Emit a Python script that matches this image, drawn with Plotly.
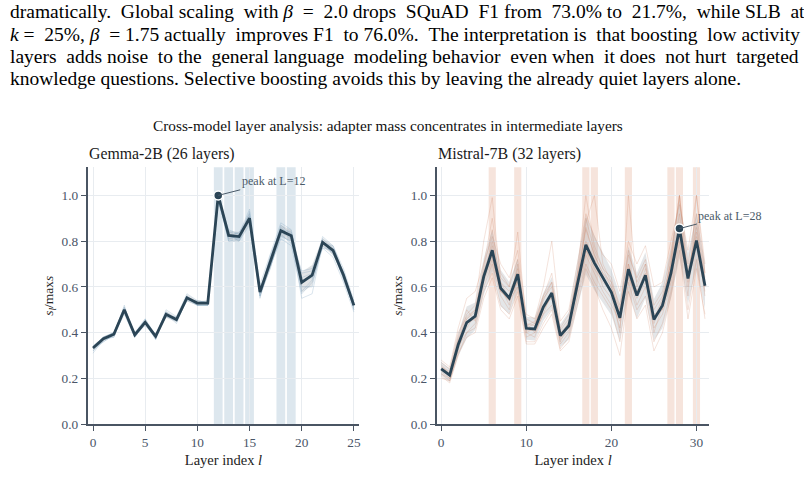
import plotly.graph_objects as go

# ---------------- data ----------------
gemma_layers = list(range(26))
gemma_mean = [0.333, 0.373, 0.393, 0.500, 0.390, 0.445, 0.384, 0.480, 0.457, 0.552,
              0.529, 0.529, 1.000, 0.825, 0.820, 0.900, 0.577, 0.710, 0.846, 0.824,
              0.620, 0.651, 0.795, 0.760, 0.652, 0.519]
gemma_std = [0.010, 0.010, 0.010, 0.015, 0.010, 0.010, 0.010, 0.015, 0.010, 0.015,
             0.010, 0.010, 0.010, 0.020, 0.020, 0.025, 0.025, 0.030, 0.025, 0.025,
             0.045, 0.045, 0.020, 0.020, 0.020, 0.015]
gemma_runs = [
    [0.32, 0.36, 0.39, 0.52, 0.38, 0.44, 0.37, 0.49, 0.45, 0.56, 0.52, 0.52, 0.99, 0.80, 0.81, 0.93, 0.55, 0.72, 0.87, 0.83, 0.58, 0.63, 0.81, 0.77, 0.66, 0.50],
    [0.34, 0.38, 0.40, 0.49, 0.40, 0.46, 0.39, 0.47, 0.46, 0.54, 0.54, 0.53, 0.98, 0.84, 0.83, 0.88, 0.60, 0.69, 0.82, 0.80, 0.66, 0.67, 0.78, 0.75, 0.64, 0.53],
    [0.33, 0.37, 0.38, 0.51, 0.39, 0.43, 0.38, 0.48, 0.44, 0.55, 0.53, 0.54, 0.97, 0.83, 0.80, 0.91, 0.56, 0.74, 0.85, 0.84, 0.60, 0.60, 0.80, 0.74, 0.67, 0.52],
    [0.34, 0.38, 0.40, 0.50, 0.39, 0.45, 0.39, 0.47, 0.47, 0.55, 0.52, 0.52, 1.00, 0.82, 0.84, 0.89, 0.59, 0.70, 0.83, 0.79, 0.64, 0.66, 0.77, 0.76, 0.63, 0.51],
    [0.32, 0.37, 0.39, 0.48, 0.38, 0.44, 0.38, 0.49, 0.46, 0.56, 0.53, 0.53, 0.99, 0.81, 0.82, 0.92, 0.57, 0.68, 0.86, 0.82, 0.55, 0.57, 0.79, 0.78, 0.66, 0.53],
    [0.33, 0.36, 0.39, 0.50, 0.40, 0.45, 0.37, 0.48, 0.45, 0.54, 0.52, 0.52, 0.98, 0.82, 0.81, 0.90, 0.58, 0.73, 0.84, 0.81, 0.67, 0.68, 0.80, 0.75, 0.65, 0.50],
    [0.31, 0.37, 0.40, 0.51, 0.39, 0.46, 0.38, 0.50, 0.47, 0.57, 0.54, 0.53, 0.99, 0.85, 0.83, 0.94, 0.61, 0.75, 0.88, 0.85, 0.63, 0.64, 0.82, 0.78, 0.68, 0.54],
    [0.33, 0.38, 0.38, 0.49, 0.38, 0.44, 0.39, 0.47, 0.45, 0.55, 0.52, 0.52, 0.98, 0.80, 0.80, 0.87, 0.56, 0.69, 0.81, 0.78, 0.57, 0.62, 0.77, 0.73, 0.62, 0.49],
]
gemma_highlight = [12, 13, 14, 15, 18, 19]

mistral_layers = list(range(32))
mistral_mean = [0.242, 0.214, 0.347, 0.444, 0.472, 0.645, 0.760, 0.594, 0.551, 0.655,
                0.419, 0.416, 0.512, 0.573, 0.387, 0.430, 0.610, 0.784, 0.705, 0.640,
                0.576, 0.465, 0.677, 0.562, 0.651, 0.457, 0.519, 0.660, 0.855, 0.637,
                0.803, 0.605]
mistral_std = [0.03, 0.03, 0.05, 0.07, 0.06, 0.08, 0.09, 0.08, 0.07, 0.07,
               0.05, 0.05, 0.06, 0.07, 0.05, 0.06, 0.10, 0.13, 0.12, 0.11,
               0.10, 0.10, 0.10, 0.10, 0.10, 0.09, 0.10, 0.11, 0.13, 0.11,
               0.12, 0.10]
mistral_runs = [
    [0.22, 0.20, 0.33, 0.46, 0.50, 0.68, 0.85, 0.60, 0.52, 0.70, 0.40, 0.42, 0.55, 0.60, 0.36, 0.44, 0.62, 0.80, 0.72, 0.60, 0.55, 0.42, 0.70, 0.58, 0.66, 0.40, 0.52, 0.72, 1.00, 0.62, 0.84, 0.60],
    [0.26, 0.22, 0.38, 0.50, 0.45, 0.62, 0.72, 0.58, 0.56, 0.62, 0.44, 0.40, 0.48, 0.58, 0.40, 0.42, 0.66, 1.00, 0.78, 0.68, 0.60, 0.50, 0.64, 0.55, 0.62, 0.48, 0.50, 0.64, 0.82, 0.66, 0.78, 0.58],
    [0.24, 0.21, 0.36, 0.42, 0.48, 0.66, 0.78, 0.62, 0.55, 0.68, 0.42, 0.44, 0.52, 0.55, 0.38, 0.45, 0.58, 0.76, 0.68, 0.62, 0.58, 0.40, 1.00, 0.60, 0.70, 0.44, 0.54, 0.68, 0.86, 0.60, 0.80, 0.62],
    [0.25, 0.23, 0.34, 0.40, 0.44, 0.60, 0.70, 0.56, 0.50, 0.64, 0.40, 0.38, 0.50, 0.56, 0.35, 0.40, 0.56, 0.74, 0.66, 0.58, 0.52, 0.45, 0.66, 0.52, 0.60, 0.42, 0.48, 0.62, 0.84, 0.56, 1.00, 0.66],
    [0.23, 0.20, 0.36, 0.48, 0.52, 0.80, 0.99, 0.62, 0.58, 0.66, 0.43, 0.45, 0.56, 0.62, 0.40, 0.44, 0.64, 0.85, 0.74, 0.66, 0.60, 0.48, 0.70, 0.56, 0.68, 0.46, 0.55, 0.70, 0.92, 0.64, 0.86, 0.63],
    [0.22, 0.19, 0.32, 0.44, 0.46, 0.64, 0.74, 0.58, 0.54, 0.60, 0.38, 0.40, 0.48, 0.52, 0.37, 0.41, 0.60, 0.88, 1.00, 0.70, 0.62, 0.46, 0.68, 0.58, 0.64, 0.46, 0.50, 0.66, 0.88, 0.68, 0.82, 0.56],
    [0.27, 0.24, 0.40, 0.47, 0.50, 0.66, 0.80, 0.64, 0.60, 0.72, 0.46, 0.44, 0.56, 0.66, 0.42, 0.48, 0.64, 0.86, 0.74, 0.66, 0.62, 0.52, 0.74, 0.64, 0.72, 0.52, 0.58, 0.74, 1.00, 0.70, 0.92, 0.66],
    [0.21, 0.18, 0.30, 0.40, 0.42, 0.58, 0.66, 0.52, 0.48, 0.58, 0.36, 0.36, 0.44, 0.50, 0.33, 0.38, 0.55, 0.70, 0.62, 0.56, 0.50, 0.36, 0.62, 0.50, 0.56, 0.36, 0.44, 0.58, 0.80, 0.50, 0.72, 0.46],
    [0.28, 0.25, 0.42, 0.55, 0.58, 0.70, 0.82, 0.70, 0.64, 0.76, 0.48, 0.46, 0.60, 0.80, 0.45, 0.50, 0.70, 0.92, 0.82, 0.74, 0.70, 0.58, 0.80, 0.70, 0.78, 0.60, 0.62, 0.80, 0.96, 0.76, 1.00, 0.70],
    [0.20, 0.19, 0.31, 0.38, 0.40, 0.55, 0.64, 0.50, 0.46, 0.56, 0.35, 0.35, 0.42, 0.48, 0.32, 0.36, 0.52, 0.68, 0.60, 0.50, 0.42, 0.30, 0.58, 0.46, 0.52, 0.32, 0.40, 0.56, 0.76, 0.46, 0.68, 0.48],
    [0.25, 0.22, 0.37, 0.46, 0.49, 0.70, 0.90, 0.66, 0.60, 0.84, 0.44, 0.43, 0.54, 0.62, 0.41, 0.46, 0.66, 0.90, 0.76, 0.68, 0.64, 0.50, 0.76, 0.62, 0.70, 0.50, 0.56, 0.70, 1.00, 0.64, 0.88, 0.64],
    [0.24, 0.21, 0.35, 0.44, 0.47, 0.63, 0.74, 0.58, 0.54, 0.64, 0.41, 0.41, 0.50, 0.56, 0.38, 0.42, 0.60, 0.76, 0.70, 0.64, 0.58, 0.46, 0.66, 0.56, 0.64, 0.46, 0.52, 0.66, 0.84, 0.64, 0.80, 0.60],
]
mistral_highlight = [6, 9, 17, 18, 22, 27, 28, 30]

y_ticks = [0.0, 0.2, 0.4, 0.6, 0.8, 1.0]
gemma_xticks = [0, 5, 10, 15, 20, 25]
mistral_xticks = [0, 10, 20, 30]

paragraph = [
    "dramatically. Global scaling with <i>β</i> = 2.0 drops SQuAD F1 from 73.0% to 21.7%, while SLB at",
    "<i>k</i> = 25%, <i>β</i> = 1.75 actually improves F1 to 76.0%. The interpretation is that boosting low activity",
    "layers adds noise to the general language modeling behavior even when it does not hurt targeted",
    "knowledge questions. Selective boosting avoids this by leaving the already quiet layers alone.",
]
# extra (non-breaking) spaces per line to imitate the justified paragraph
paragraph_extra = [10, 7, 8, 0]
main_title = "Cross-model layer analysis: adapter mass concentrates in intermediate layers"

# ---------------- style ----------------
W, H = 804, 500
FONT = "Liberation Serif"
DARK = "#2b4556"
AXIS = "#4a5563"
TICK = "#4a5568"
GRID = "#e8ecf0"


def px_x(p):
    return p / W


def px_y(p):
    return 1 - p / H


def justify(line, extra):
    words = line.split(" ")
    gaps = len(words) - 1
    if extra <= 0 or gaps <= 0:
        return line
    chosen = set(round((k + 0.5) * gaps / extra - 0.5) for k in range(extra))
    out = words[0]
    for g in range(gaps):
        out += " " + ("\u00a0" if g in chosen else "") + words[g + 1]
    return out


fig = go.Figure()

panels = [
    dict(layers=gemma_layers, mean=gemma_mean, std=gemma_std, runs=gemma_runs,
         hl=gemma_highlight, xa="x", ya="y", run_col="rgba(120,160,190,0.30)",
         band_col="rgba(150,158,166,0.28)", hl_col="#dde7ee",
         title="Gemma-2B (26 layers)", ann=(55, -14)),
    dict(layers=mistral_layers, mean=mistral_mean, std=mistral_std, runs=mistral_runs,
         hl=mistral_highlight, xa="x2", ya="y2", run_col="rgba(206,132,104,0.26)",
         band_col="rgba(150,158,166,0.26)", hl_col="#f6e4dc",
         title="Mistral-7B (32 layers)", ann=(50, -13)),
]

shapes = []
annotations = []
for p in panels:
    xs = p["layers"]
    lo = [m - s for m, s in zip(p["mean"], p["std"])]
    hi = [m + s for m, s in zip(p["mean"], p["std"])]
    for l in p["hl"]:
        shapes.append(dict(type="rect", xref=p["xa"], yref=p["ya"] + " domain",
                           x0=l - 0.42, x1=l + 0.42, y0=0, y1=1,
                           fillcolor=p["hl_col"], line_width=0, layer="below"))
    fig.add_trace(go.Scatter(x=xs, y=lo, mode="lines", line=dict(width=0),
                             xaxis=p["xa"], yaxis=p["ya"], showlegend=False, hoverinfo="skip"))
    fig.add_trace(go.Scatter(x=xs, y=hi, mode="lines", line=dict(width=0), fill="tonexty",
                             fillcolor=p["band_col"], xaxis=p["xa"], yaxis=p["ya"],
                             showlegend=False, hoverinfo="skip"))
    for r in p["runs"]:
        fig.add_trace(go.Scatter(x=xs, y=r, mode="lines", line=dict(width=0.9, color=p["run_col"]),
                                 xaxis=p["xa"], yaxis=p["ya"], showlegend=False, hoverinfo="skip"))
    fig.add_trace(go.Scatter(x=xs, y=p["mean"], mode="lines", line=dict(width=2.8, color=DARK),
                             xaxis=p["xa"], yaxis=p["ya"], showlegend=False))
    pk = max(range(len(p["mean"])), key=lambda i: p["mean"][i])
    fig.add_trace(go.Scatter(x=[xs[pk]], y=[p["mean"][pk]], mode="markers",
                             marker=dict(size=9, color=DARK, line=dict(color="white", width=1.5)),
                             xaxis=p["xa"], yaxis=p["ya"], showlegend=False))
    annotations.append(dict(x=xs[pk], y=p["mean"][pk], xref=p["xa"], yref=p["ya"],
                            text=f"peak at L={xs[pk]}", showarrow=True, arrowhead=0,
                            arrowwidth=1, arrowcolor="#4a5a68", ax=p["ann"][0], ay=p["ann"][1],
                            font=dict(family=FONT, size=12, color="#4a5a68")))

# subplot titles
annotations.append(dict(text=panels[0]["title"], x=px_x(87), y=px_y(157), xref="paper", yref="paper",
                        xanchor="left", yanchor="middle", showarrow=False,
                        font=dict(family=FONT, size=15.8, color="#1a1a1a")))
annotations.append(dict(text=panels[1]["title"], x=px_x(437), y=px_y(157), xref="paper", yref="paper",
                        xanchor="left", yanchor="middle", showarrow=False,
                        font=dict(family=FONT, size=16, color="#1a1a1a")))
annotations.append(dict(text=main_title, x=px_x(389), y=px_y(128), xref="paper", yref="paper",
                        xanchor="center", yanchor="middle", showarrow=False,
                        font=dict(family=FONT, size=15.3, color="#111111")))
# paragraph lines
for i, line in enumerate(paragraph):
    annotations.append(dict(text=justify(line, paragraph_extra[i]), x=px_x(8), y=px_y(12 + 22.6 * i),
                            xref="paper", yref="paper",
                            xanchor="left", yanchor="middle", showarrow=False,
                            font=dict(family=FONT, size=19.5, color="#000000")))

ydom = [px_y(431), px_y(170)]
common_x = dict(showline=True, linecolor=AXIS, linewidth=2, ticks="outside", ticklen=5,
                tickcolor=AXIS, tickfont=dict(family=FONT, size=13.3, color=TICK),
                showgrid=True, gridcolor=GRID, gridwidth=1, zeroline=False,
                title=dict(text="Layer index <i>l</i>", font=dict(family=FONT, size=14.5, color="#222"),
                           standoff=6))
common_y = dict(showline=True, linecolor=AXIS, linewidth=2, ticks="outside", ticklen=5,
                tickcolor=AXIS, tickfont=dict(family=FONT, size=13.3, color=TICK),
                showgrid=True, gridcolor=GRID, gridwidth=1, zeroline=False,
                range=[0, 1.123], tickvals=y_ticks, tickformat=".1f", domain=ydom,
                title=dict(text="<i>s<sub>l</sub></i>/max<i>s</i>", font=dict(family=FONT, size=13.5, color="#222"),
                           standoff=5))

fig.update_layout(
    width=W, height=H, margin=dict(l=0, r=0, t=0, b=0),
    paper_bgcolor="white", plot_bgcolor="white",
    xaxis=dict(domain=[px_x(88), px_x(360)], range=[-0.5, 25.5], tickvals=gemma_xticks,
               anchor="y", **common_x),
    yaxis=dict(anchor="x", **common_y),
    xaxis2=dict(domain=[px_x(438), px_x(711)], range=[-0.5, 31.5], tickvals=mistral_xticks,
                anchor="y2", **common_x),
    yaxis2=dict(anchor="x2", **common_y),
    shapes=shapes, annotations=annotations, showlegend=False,
)

fig.write_html("out.html")
